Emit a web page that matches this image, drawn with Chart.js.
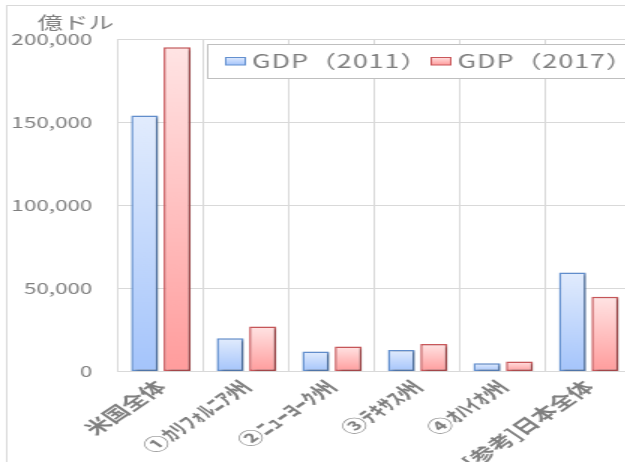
<!DOCTYPE html>
<html lang="ja">
<head>
<meta charset="utf-8">
<title>GDP比較</title>
<script src="https://cdn.jsdelivr.net/npm/chart.js@4/dist/chart.umd.min.js"></script>
<style>
  html, body { margin: 0; padding: 0; background: #fff; overflow: hidden; width: 625px; height: 462px; }
  #wrap { position: absolute; left: 0; top: 0; width: 440px; height: 462px; transform: scaleX(1.5); transform-origin: 0 0; }
</style>
</head>
<body>
<div id="wrap"><canvas id="c"></canvas></div>
<script>
// 地域別GDP（億ドル）
const categories = ['米国全体', '①ｶﾘﾌｫﾙﾆｱ州', '②ﾆｭｰﾖｰｸ州', '③ﾃｷｻｽ州', '④ｵﾊｲｵ州', '[参考]日本全体'];
const seriesNames = ['GDP（2011）', 'GDP（2017）'];
const gdp2011 = [154000, 20000, 12000, 13000, 5000, 59500];
const gdp2017 = [195000, 27000, 15000, 16500, 6000, 45000];
const yTicks = [0, 50000, 100000, 150000, 200000];
const unitLabel = '億ドル';

const FONT = '"Noto Sans CJK JP", "Noto Sans", sans-serif';
const TEXT = '#7f7f7f';
const GRID = '#d9d9d9';

const palette = [
  { top: '#e2ecfd', bottom: '#a4c4fb', border: '#6390cf' },
  { top: '#ffe4e4', bottom: '#ff9c9c', border: '#c9575a' }
];

// 各棒の上端から下端へのグラデーション
function barFill(i) {
  return function (ctx) {
    const chart = ctx.chart;
    const y = chart.scales && chart.scales.y;
    if (!chart.chartArea || !y || ctx.dataIndex === undefined) return palette[i].bottom;
    const v = ctx.dataset.data[ctx.dataIndex];
    const top = y.getPixelForValue(v);
    const bottom = y.getPixelForValue(0);
    if (!isFinite(top) || !isFinite(bottom) || bottom - top < 1) return palette[i].bottom;
    const g = chart.ctx.createLinearGradient(0, top, 0, bottom);
    g.addColorStop(0, palette[i].top);
    g.addColorStop(1, palette[i].bottom);
    return g;
  };
}

// 外枠と単位ラベル
const framePlugin = {
  id: 'frame',
  beforeDraw(chart) {
    const c = chart.ctx;
    c.save();
    c.fillStyle = '#fff';
    c.fillRect(0, 0, chart.width, chart.height);
    c.strokeStyle = GRID;
    c.lineWidth = 1;
    c.strokeRect(4.5, 5.5, chart.width + 20, chart.height + 20);
    c.fillStyle = TEXT;
    c.font = '17px ' + FONT;
    c.textBaseline = 'middle';
    c.textAlign = 'left';
    c.fillText(unitLabel, 25, 23);
    c.restore();
  }
};

// 棒の影
const shadowPlugin = {
  id: 'barShadow',
  beforeDatasetsDraw(chart) {
    const c = chart.ctx;
    c.save();
    c.shadowColor = 'rgba(0,0,0,0.28)';
    c.shadowOffsetX = 2;
    c.shadowOffsetY = 1;
    c.shadowBlur = 2;
  },
  afterDatasetsDraw(chart) {
    chart.ctx.restore();
  }
};

// プロット内右上の凡例
const boxLegend = {
  id: 'boxLegend',
  afterDraw(chart) {
    const c = chart.ctx;
    c.save();
    c.fillStyle = '#fff';
    c.strokeStyle = '#bfbfbf';
    c.lineWidth = 1;
    c.fillRect(138.5, 44.5, 300, 34);
    c.strokeRect(138.5, 44.5, 300, 34);
    const items = [{ sx: 150, tx: 168 }, { sx: 287, tx: 305 }];
    chart.data.datasets.forEach((ds, i) => {
      const it = items[i];
      const g = c.createLinearGradient(0, 57, 0, 65);
      g.addColorStop(0, palette[i].top);
      g.addColorStop(1, palette[i].bottom);
      c.fillStyle = g;
      c.fillRect(it.sx, 57, 13.5, 8);
      c.strokeStyle = palette[i].border;
      c.strokeRect(it.sx + 0.5, 57.5, 13, 7.5);
      c.fillStyle = TEXT;
      c.font = '18px ' + FONT;
      if ('letterSpacing' in c) c.letterSpacing = '0.6px';
      c.textBaseline = 'middle';
      c.textAlign = 'left';
      c.fillText(ds.label, it.tx, 61.5);
    });
    c.restore();
  }
};

const datasets = [gdp2011, gdp2017].map((data, i) => ({
  label: seriesNames[i],
  data: data,
  backgroundColor: barFill(i),
  borderColor: palette[i].border,
  borderWidth: 1.5,
  borderSkipped: false,
  categoryPercentage: 0.76,
  barPercentage: 0.83
}));

new Chart(document.getElementById('c'), {
  type: 'bar',
  data: { labels: categories, datasets: datasets },
  plugins: [framePlugin, shadowPlugin, boxLegend],
  options: {
    responsive: true,
    maintainAspectRatio: false,
    animation: false,
    devicePixelRatio: 1,
    layout: { padding: { left: 0, right: 19, top: 39, bottom: 0 } },
    plugins: {
      legend: { display: false },
      tooltip: { enabled: false },
      title: { display: false }
    },
    scales: {
      x: {
        grid: { color: GRID, lineWidth: 1, offset: true, drawTicks: false },
        border: { display: false },
        ticks: {
          color: TEXT,
          font: { family: FONT, size: 17, weight: 'bold' },
          maxRotation: 45,
          minRotation: 45,
          padding: 5,
          autoSkip: false
        },
        afterFit(scale) { scale.height = 90.5; }
      },
      y: {
        min: yTicks[0],
        max: yTicks[yTicks.length - 1],
        grid: { color: GRID, lineWidth: 1, drawTicks: false },
        border: { display: false },
        afterBuildTicks(scale) { scale.ticks = yTicks.map(v => ({ value: v })); },
        ticks: {
          color: TEXT,
          font: { family: FONT, size: 15 },
          padding: 17,
          callback: v => Number(v).toLocaleString('en-US')
        },
        afterFit(scale) { scale.width = 78.7; }
      }
    }
  }
});
</script>
</body>
</html>
